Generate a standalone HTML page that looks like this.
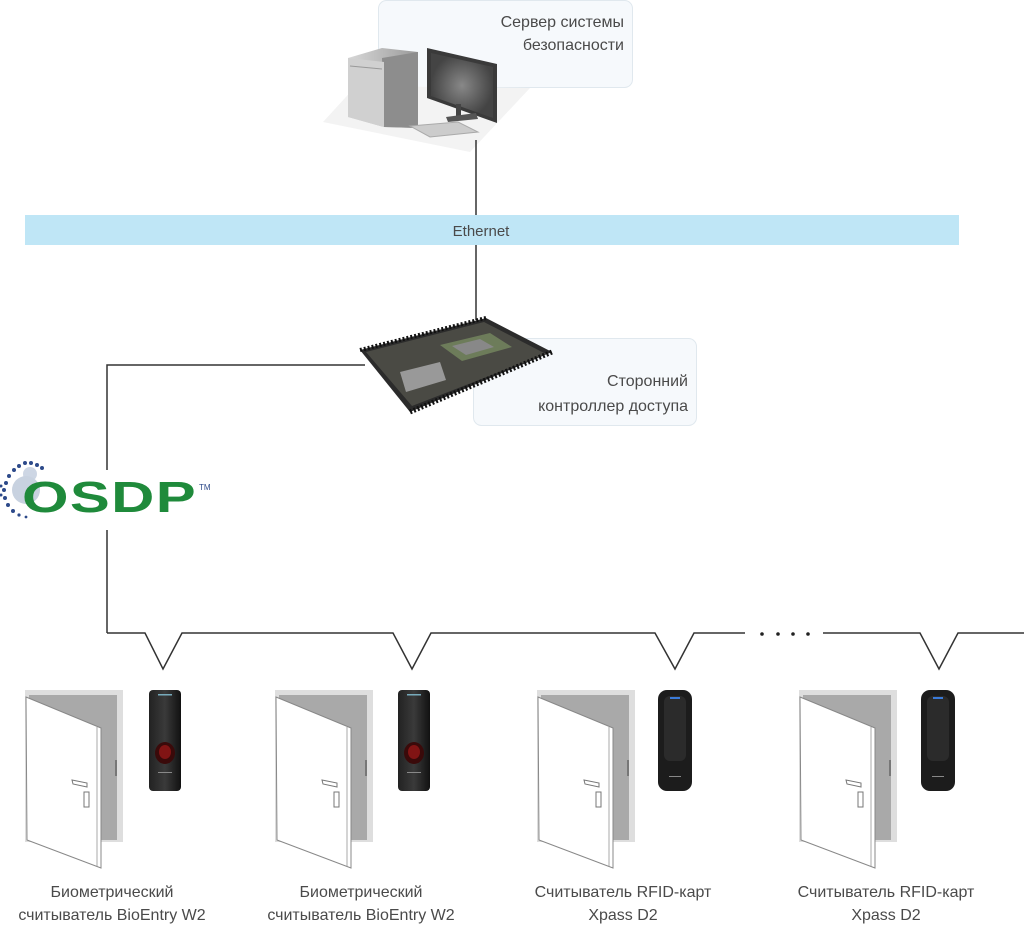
<!DOCTYPE html>
<html><head><meta charset="utf-8"><style>
html,body{margin:0;padding:0;background:#fff}
svg{display:block}
text{font-family:"Liberation Sans",sans-serif;fill:#4a4a4a}
</style></head><body>
<svg width="1024" height="925" viewBox="0 0 1024 925" xmlns="http://www.w3.org/2000/svg">
<defs>
<linearGradient id="tw" x1="0" x2="1"><stop offset="0" stop-color="#d8d8d8"/><stop offset="1" stop-color="#9a9a9a"/></linearGradient>
<radialGradient id="mon"><stop offset="0" stop-color="#888"/><stop offset="1" stop-color="#444"/></radialGradient>
<linearGradient id="rd" x1="0" x2="1"><stop offset="0" stop-color="#222"/><stop offset=".5" stop-color="#3a3a3a"/><stop offset="1" stop-color="#111"/></linearGradient>
<g id="door">
<rect x="0" y="690" width="98" height="152" fill="#dedede"/>
<rect x="4" y="695" width="88" height="145" fill="#a9a9a9"/>
<polygon points="1,697 76,728 76,868 2,840" fill="#fff" stroke="#888" stroke-width="1"/>
<line x1="72" y1="727" x2="72" y2="866" stroke="#aaa"/>
<rect x="90" y="760" width="2" height="16" fill="#777"/>
<path d="M47,780 L62,783 L62,787 L48,784 Z" fill="#fff" stroke="#777"/>
<rect x="59" y="792" width="5" height="15" fill="#fff" stroke="#777"/>
</g>
<g id="bio">
<rect x="0" y="690" width="32" height="101" rx="4" fill="url(#rd)"/>
<rect x="9" y="694" width="14" height="1.5" fill="#7ab"/>
<ellipse cx="16" cy="753" rx="10" ry="11" fill="#3a0a0a"/>
<ellipse cx="16" cy="752" rx="6" ry="7" fill="#a01818" opacity=".7"/>
<rect x="9" y="772" width="14" height="1" fill="#888"/>
</g>
<g id="xp">
<rect x="0" y="690" width="34" height="101" rx="9" fill="#1c1c1c"/>
<rect x="6" y="696" width="22" height="65" rx="6" fill="#2b2b2b"/>
<rect x="12" y="697" width="10" height="2" fill="#3a7ad8"/>
<rect x="11" y="776" width="12" height="1" fill="#888"/>
</g>
</defs>

<!-- server label box -->
<rect x="378.5" y="0.5" width="254" height="87" rx="8" fill="#f6f9fc" stroke="#e0e8ee"/>
<text x="624" y="27" font-size="16" text-anchor="end">Сервер системы</text>
<text x="624" y="50" font-size="16" text-anchor="end">безопасности</text>
<!-- desk -->
<polygon points="323,122 356,86 530,88 470,152" fill="#f3f3f3"/>
<!-- tower -->
<polygon points="348,58 382,48 418,52 418,128 384,127 348,117" fill="url(#tw)"/>
<polygon points="382,58 418,52 418,128 384,127" fill="#8d8d8d"/>
<polygon points="348,58 384,62 384,127 348,117" fill="#d0d0d0"/>
<line x1="350" y1="66" x2="382" y2="69" stroke="#999"/>
<!-- monitor -->
<polygon points="427,48 497,64 497,123 427,98" fill="#3a3a3a"/>
<polygon points="431,53 493,67 493,118 431,96" fill="url(#mon)"/>
<rect x="456" y="104" width="5" height="14" fill="#444"/>
<polygon points="446,117 476,113 478,119 448,122" fill="#555"/>
<polygon points="410,126 458,122 478,132 430,137" fill="#ccc" stroke="#aaa"/>

<line x1="476" y1="140" x2="476" y2="215" stroke="#333" stroke-width="1.5"/>
<rect x="25" y="215" width="934" height="30" fill="#bfe6f6"/>
<text x="481" y="236" font-size="15" text-anchor="middle">Ethernet</text>
<line x1="476" y1="245" x2="476" y2="320" stroke="#333" stroke-width="1.5"/>

<!-- controller label -->
<rect x="473.5" y="338.5" width="223" height="87" rx="8" fill="#f6f9fc" stroke="#e0e8ee"/>
<text x="688" y="386" font-size="16" text-anchor="end">Сторонний</text>
<text x="688" y="411" font-size="16" text-anchor="end">контроллер доступа</text>
<!-- controller board -->
<polygon points="360,350 486,318 552,352 410,412" fill="#2b2b2b"/>
<polygon points="366,352 484,322 546,354 412,406" fill="#4a4a44"/>
<polygon points="440,345 490,333 512,347 462,361" fill="#6d7c5a"/>
<polygon points="452,346 480,339 494,347 466,355" fill="#888"/>
<polygon points="400,372 440,362 446,380 406,392" fill="#999"/>
<line x1="360" y1="350" x2="486" y2="318" stroke="#111" stroke-width="4" stroke-dasharray="2 2"/>
<line x1="410" y1="412" x2="552" y2="352" stroke="#111" stroke-width="5" stroke-dasharray="2 2"/>

<!-- OSDP line -->
<polyline points="365,365 107,365 107,470" fill="none" stroke="#333" stroke-width="1.5"/>
<line x1="107" y1="530" x2="107" y2="633" stroke="#333" stroke-width="1.5"/>
<!-- OSDP logo -->
<g fill="#2d4a8a">
<circle cx="30" cy="474" r="7" fill="#b8c4d8" opacity=".7"/>
<circle cx="26" cy="490" r="14" fill="#c8d2e0"/>
<circle cx="14" cy="470" r="2"/><circle cx="19" cy="466" r="2"/><circle cx="25" cy="463" r="2"/><circle cx="31" cy="463" r="2"/><circle cx="37" cy="465" r="2"/><circle cx="42" cy="468" r="2"/>
<circle cx="9" cy="476" r="2"/><circle cx="6" cy="483" r="2"/><circle cx="4" cy="490" r="2"/><circle cx="5" cy="498" r="2"/><circle cx="8" cy="505" r="2"/><circle cx="13" cy="511" r="2"/><circle cx="19" cy="515" r="1.6"/><circle cx="26" cy="517" r="1.4"/>
<circle cx="1" cy="486" r="1.5"/><circle cx="1" cy="495" r="1.5"/>
</g>
<text x="22" y="512" font-size="44" font-weight="bold" style="fill:#1f8a3b;font-family:'Liberation Sans',sans-serif;letter-spacing:1px" textLength="175" lengthAdjust="spacingAndGlyphs">OSDP</text>
<text x="199" y="490" font-size="8" style="fill:#2d4a8a">TM</text>

<!-- bus -->
<polyline points="107,633 145,633 163,669 182,633 393,633 412,669 431,633 655,633 675,669 694,633 745,633" fill="none" stroke="#333" stroke-width="1.5"/>
<polyline points="823,633 920,633 939,669 958,633 1024,633" fill="none" stroke="#333" stroke-width="1.5"/>
<g fill="#222"><circle cx="762" cy="634" r="1.8"/><circle cx="778" cy="634" r="1.8"/><circle cx="793" cy="634" r="1.8"/><circle cx="808" cy="634" r="1.8"/></g>

<use href="#door" x="25"/><use href="#bio" x="149"/>
<use href="#door" x="275"/><use href="#bio" x="398"/>
<use href="#door" x="537"/><use href="#xp" x="658"/>
<use href="#door" x="799"/><use href="#xp" x="921"/>

<g font-size="16" text-anchor="middle">
<text x="112" y="897">Биометрический</text><text x="112" y="920">считыватель BioEntry W2</text>
<text x="361" y="897">Биометрический</text><text x="361" y="920">считыватель BioEntry W2</text>
<text x="623" y="897">Считыватель RFID-карт</text><text x="623" y="920">Xpass D2</text>
<text x="886" y="897">Считыватель RFID-карт</text><text x="886" y="920">Xpass D2</text>
</g>
</svg>
</body></html>
